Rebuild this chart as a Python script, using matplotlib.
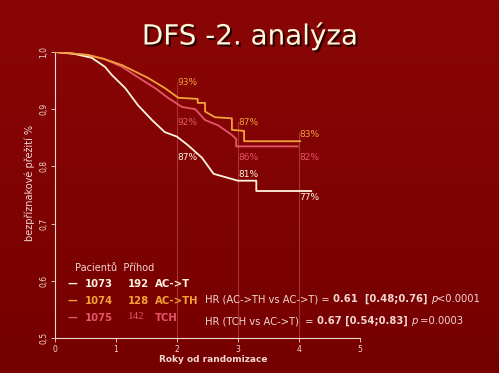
import numpy as np
import matplotlib
matplotlib.use("Agg")
import matplotlib.pyplot as plt
import matplotlib.patheffects as pe
from matplotlib.colors import LinearSegmentedColormap

# data (repeated t = vertical step)
t_act = [0, 0.3, 0.6, 0.82, 0.93, 1.15, 1.36, 1.59, 1.8, 2.0, 2.18, 2.41, 2.6, 2.8, 3.0, 3.3, 3.3, 4.2]
s_act = [1.0, 0.997, 0.99, 0.974, 0.96, 0.937, 0.907, 0.881, 0.86, 0.852, 0.837, 0.815, 0.787, 0.781, 0.775, 0.775, 0.757, 0.757]

t_acth = [0, 0.54, 0.8, 1.1, 1.52, 1.8, 2.02, 2.34, 2.34, 2.46, 2.46, 2.62, 2.9, 2.9, 3.1, 3.1, 4.02]
s_acth = [1.0, 0.995, 0.988, 0.977, 0.955, 0.937, 0.92, 0.918, 0.911, 0.911, 0.896, 0.886, 0.884, 0.864, 0.862, 0.844, 0.844]

t_tch = [0, 0.5, 0.8, 1.1, 1.43, 1.64, 1.85, 2.08, 2.3, 2.46, 2.67, 2.9, 2.97, 2.97, 3.98]
s_tch = [1.0, 0.995, 0.988, 0.974, 0.951, 0.937, 0.92, 0.904, 0.9, 0.881, 0.872, 0.855, 0.848, 0.835, 0.835]

# percent labels: (x, y) in data units, text, arm
lbl_x = [2.0, 2.0, 2.0, 3.0, 3.0, 3.0, 4.0, 4.0, 4.0]
lbl_y = [0.947, 0.877, 0.816, 0.877, 0.816, 0.786, 0.856, 0.816, 0.745]
lbl_txt = ["93%", "92%", "87%", "87%", "86%", "81%", "83%", "82%", "77%"]
lbl_arm = [1, 2, 0, 1, 2, 0, 1, 2, 0]

vline_x = [2, 3, 4]
vline_top = [0.947, 0.877, 0.86]

patients = ["1073", "1074", "1075"]
events = ["192", "128", "142"]
arms = ["AC->T", "AC->TH", "TCH"]

BG = "#7c0202"
WHITE = "#fff4e0"
ORANGE = "#f4a03a"
PINK = "#e6566a"
LIGHT = "#f2d6d0"
colors = [WHITE, ORANGE, PINK]

fig = plt.figure(figsize=(4.99, 3.73), dpi=100)
fig.patch.set_facecolor(BG)

# subtle background gradient
bg = fig.add_axes([0, 0, 1, 1], zorder=-10)
grad = np.linspace(0, 1, 100).reshape(-1, 1)
cmap = LinearSegmentedColormap.from_list("bg", ["#8a0606", "#760000"])
bg.imshow(grad, aspect="auto", cmap=cmap, extent=[0, 1, 0, 1])
bg.axis("off")

ax = fig.add_axes([55 / 499, 1 - 338 / 373, 305 / 499, 286 / 373])
ax.set_facecolor("none")

for xv, top in zip(vline_x, vline_top):
    ax.plot([xv, xv], [0.5, top], color="#a33535", lw=0.8, zorder=1)

ax.plot(t_act, s_act, color=WHITE, lw=1.3, zorder=3)
ax.plot(t_acth, s_acth, color=ORANGE, lw=1.3, zorder=3)
ax.plot(t_tch, s_tch, color=PINK, lw=1.3, zorder=2)

for xv, yv, s, a in zip(lbl_x, lbl_y, lbl_txt, lbl_arm):
    ax.text(xv, yv, s, color=colors[a], fontsize=6.5, ha="left", va="center")

ax.set_xlim(0, 5)
ax.set_ylim(0.5, 1.0)
ax.set_xticks([0, 1, 2, 3, 4, 5])
ax.set_yticks([0.5, 0.6, 0.7, 0.8, 0.9, 1.0])
ax.set_yticklabels(["0,5", "0,6", "0,7", "0,8", "0,9", "1,0"], rotation=90, va="center")
for s in ["top", "right"]:
    ax.spines[s].set_visible(False)
for s in ["left", "bottom"]:
    ax.spines[s].set_color(LIGHT)
    ax.spines[s].set_linewidth(0.8)
ax.tick_params(colors=LIGHT, labelsize=5.5, length=3, width=0.6, pad=2)

fig.text(213 / 499, 1 - 359 / 373, "Roky od randomizace", color=LIGHT,
         fontsize=6.5, fontweight="bold", ha="center", va="center")
fig.text(30 / 499, 1 - 183 / 373, "bezpříznakové přežití %", color=LIGHT,
         fontsize=7, rotation=90, ha="center", va="center")

fig.text(250 / 499, 1 - 36 / 373, "DFS -2. analýza", color="#fff8dc", fontsize=20,
         ha="center", va="center",
         path_effects=[pe.SimplePatchShadow(offset=(1.5, -1.5), shadow_rgbFace="black", alpha=0.7), pe.Normal()])

# legend block
fig.text(75 / 499, 1 - 268 / 373, "Pacientů  Příhod", color=LIGHT, fontsize=7, va="center")
for i in range(3):
    yy = 1 - (284 + 17 * i) / 373
    fig.text(67 / 499, yy, "—", color=colors[i], fontsize=7, fontweight="bold", va="center")
    fig.text(85 / 499, yy, patients[i], color=colors[i], fontsize=7.3, fontweight="bold", va="center")
    if i == 2:
        fig.text(128 / 499, yy + 0.003, events[i], color=colors[i], fontsize=8, family="Liberation Serif", va="center")
    else:
        fig.text(128 / 499, yy, events[i], color=colors[i], fontsize=7.3, fontweight="bold", va="center")
    fig.text(155 / 499, yy, arms[i], color=colors[i], fontsize=7.3, fontweight="bold", va="center")


def piece_line(x0, y0, pieces, size=7.2):
    fig.canvas.draw()
    r = fig.canvas.get_renderer()
    x = x0
    for s, w, st in pieces:
        t = fig.text(x / 499, 1 - y0 / 373, s, color=LIGHT, fontsize=size,
                     fontweight=w, style=st, va="center")
        bb = t.get_window_extent(renderer=r)
        x += bb.width


piece_line(205, 299, [("HR (AC->TH vs AC->T) = ", "normal", "normal"),
                      ("0.61  [0.48;0.76] ", "bold", "normal"),
                      ("p", "normal", "italic"),
                      ("<0.0001", "normal", "normal")])
piece_line(205, 321, [("HR (TCH vs AC->T)  = ", "normal", "normal"),
                      ("0.67 [0.54;0.83] ", "bold", "normal"),
                      ("p", "normal", "italic"),
                      (" =0.0003", "normal", "normal")])

fig.savefig("out.png", dpi=100, facecolor=fig.get_facecolor())
